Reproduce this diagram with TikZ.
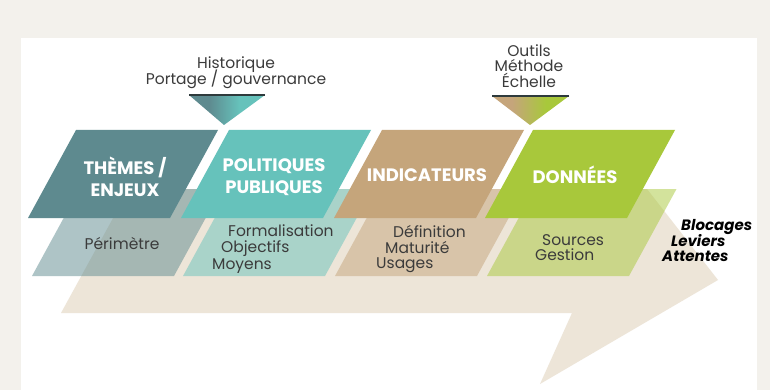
\documentclass[tikz,border=0pt]{standalone}
\usepackage{fontspec}
\setmainfont{Poppins}
\definecolor{pageback}{HTML}{F3F1EC}
\definecolor{arrowfill}{HTML}{EDE5D8}
\definecolor{themes}{HTML}{5E8A8F}
\definecolor{politiques}{HTML}{66C2BB}
\definecolor{indicateurs}{HTML}{C5A57B}
\definecolor{donnees}{HTML}{A8C83B}
\definecolor{ink}{HTML}{3B3B3B}
\definecolor{rule}{HTML}{2E3A3C}
% horizontal blends with flat ends, used by the pointer triangles
\pgfdeclarehorizontalshading{tealblend}{100bp}{color(0bp)=(themes); color(38bp)=(themes);
  color(58bp)=(politiques); color(100bp)=(politiques)}
\pgfdeclarehorizontalshading{tanblend}{100bp}{color(0bp)=(indicateurs); color(38bp)=(indicateurs);
  color(60bp)=(donnees); color(100bp)=(donnees)}
% tight line spacing for stacked captions
\newcommand{\tightlines}{\lineskiplimit=-20pt\relax\lineskip=0pt\relax}
\tikzset{
  upperbox/.style={fill=#1},
  lowerbox/.style={fill=#1, fill opacity=.5},
  toptext/.style={text=ink, align=center, inner sep=0pt,
    font=\fontsize{15.5}{15.5}\selectfont\tightlines},
  headtext/.style={text=white, align=center, inner sep=0pt,
    font=\bfseries\fontsize{18}{22}\selectfont\tightlines},
  bodytext/.style={text=ink, anchor=west, inner sep=0pt,
    text height=10pt, text depth=0pt, font=\fontsize{15.5}{16}\selectfont},
  sidetext/.style={text=black, anchor=west, inner sep=0pt,
    text height=10pt, text depth=0pt, font=\bfseries\itshape\fontsize{15}{15}\selectfont}
}
\begin{document}
\begin{tikzpicture}[x=1pt,y=-1pt]
\useasboundingbox (0,0) rectangle (770,390);
% page and panel
\fill[pageback] (0,0) rectangle (770,390);
\fill[white] (21,38) rectangle (757,390);

% large background arrow
\fill[arrowfill] (129,189) -- (647,189) -- (718,280) -- (540,384)
  -- (572,313) -- (61,313) -- cycle;

% lower, translucent parallelograms
\foreach \x/\c in {79.5/themes, 230.5/politiques, 382.5/indicateurs, 534.5/donnees}
  \fill[lowerbox=\c] (\x,189) -- ++(142,0) -- ++(-47.5,87) -- ++(-142,0) -- cycle;

% upper parallelograms
\foreach \x/\c in {76/themes, 229/politiques, 382/indicateurs, 533/donnees}
  \fill[upperbox=\c] (\x,130) -- ++(142,0) -- ++(-48,88) -- ++(-142,0) -- cycle;

% pointer triangles
\shade[shading=tealblend] (189,95) -- (265,95) -- (224,125) -- cycle;
\draw[rule, line width=1.3pt] (189,95) -- (265,95);
\shade[shading=tanblend] (492,96) -- (569,96) -- (530,125) -- cycle;
\draw[rule, line width=1.3pt] (492,96) -- (569,96);

% captions above
\node[toptext] (hist) at (236,72.5) {Historique\\Portage / gouvernance};
\node[toptext] (outils) at (529,66) {Outils\\Méthode\\Échelle};

% headings
\node[headtext] (themesT) at (125,177) {THÈMES /\\ENJEUX};
\node[headtext] (politT) at (274,177) {POLITIQUES\\PUBLIQUES};
\node[headtext] (indicT) at (427,175) {INDICATEURS};
\node[headtext] (donT) at (575,175) {DONNÉES};

% details
\node[bodytext, anchor=center] (perim) at (122,244) {Périmètre};
\node[bodytext] (formal) at (228,231) {Formalisation};
\node[bodytext] (objec) at (221,247) {Objectifs};
\node[bodytext] (moyens) at (212,264) {Moyens};
\node[bodytext] (defin) at (393,232) {Définition};
\node[bodytext] (matur) at (385,248) {Maturité};
\node[bodytext] (usages) at (376,263) {Usages};
\node[bodytext] (sources) at (542,240) {Sources};
\node[bodytext] (gestion) at (535,255) {Gestion};

% side notes
\node[sidetext] (bloc) at (681,225) {Blocages};
\node[sidetext] (levier) at (671,241) {Leviers};
\node[sidetext] (attente) at (662,256) {Attentes};
\end{tikzpicture}
\end{document}
